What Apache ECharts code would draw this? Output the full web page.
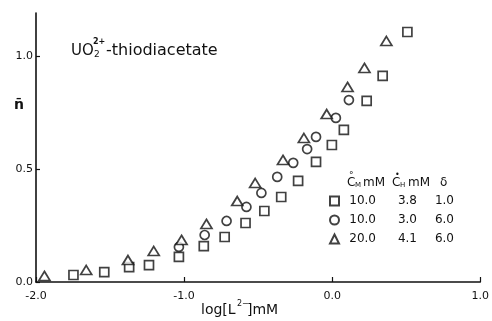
<!DOCTYPE html>
<html>
<head>
<meta charset="utf-8">
<script src="https://cdn.jsdelivr.net/npm/echarts@6/dist/echarts.min.js"></script>
<style>
  html, body { margin: 0; padding: 0; background: #fff; }
  #chart { width: 492px; height: 321px; }
</style>
</head>
<body>
<div id="chart"></div>
<script>
  // squares: CM 10.0, CH 3.8, delta 1.0
  const squareX = [-1.747, -1.539, -1.371, -1.237, -1.035, -0.867, -0.726, -0.585, -0.458, -0.344, -0.230, -0.109, -0.002, 0.079, 0.233, 0.341, 0.508];
  const squareY = [0.031, 0.044, 0.066, 0.075, 0.111, 0.159, 0.199, 0.261, 0.314, 0.376, 0.447, 0.531, 0.606, 0.673, 0.801, 0.912, 1.106];
  // circles: CM 10.0, CH 3.0, delta 6.0
  const circleX = [-1.035, -0.861, -0.713, -0.579, -0.478, -0.371, -0.263, -0.169, -0.109, 0.025, 0.113];
  const circleY = [0.155, 0.208, 0.270, 0.332, 0.394, 0.465, 0.527, 0.588, 0.642, 0.726, 0.805];
  // triangles: CM 20.0, CH 4.1, delta 6.0
  const triangleX = [-1.943, -1.661, -1.379, -1.205, -1.017, -0.849, -0.641, -0.520, -0.332, -0.191, -0.037, 0.104, 0.218, 0.366];
  const triangleY = [0.027, 0.053, 0.097, 0.137, 0.186, 0.257, 0.358, 0.438, 0.540, 0.637, 0.743, 0.863, 0.947, 1.066];

  const seriesNames = ['square', 'circle', 'triangle'];
  const concM = ['10.0', '10.0', '20.0'];
  const concH = ['3.8', '3.0', '4.1'];
  const delta = ['1.0', '6.0', '6.0'];

  const xTicks = [-2.0, -1.0, 0.0, 1.0];
  const yTicks = [0.0, 0.5, 1.0];

  const font = 'DejaVu Sans';
  const chart = echarts.init(document.getElementById('chart'));

  const pairs = (xs, ys) => xs.map((x, i) => [x, ys[i]]);
  const markStyle = {
    color: '#fff',
    borderColor: '#111',
    borderWidth: 1.7
  };

  const option = {
    animation: false,
    grid: { left: 36, right: 10, top: 13, bottom: 39 },
    xAxis: {
      type: 'value',
      min: -2.0,
      max: 1.0,
      interval: 1.0,
      axisLine: { lineStyle: { color: '#111', width: 1.6 } },
      axisTick: { inside: true, length: 5, lineStyle: { color: '#111', width: 1.2 } },
      axisLabel: {
        margin: 9,
        color: '#111',
        fontFamily: font,
        fontSize: 11,
        formatter: v => xTicks.includes(v) ? v.toFixed(1) : ''
      },
      splitLine: { show: false }
    },
    yAxis: {
      type: 'value',
      min: 0,
      max: 1.19,
      interval: 0.5,
      axisLine: { show: true, onZero: false, lineStyle: { color: '#111', width: 1.6 } },
      axisTick: { show: true, inside: true, length: 4, lineStyle: { color: '#111', width: 1.2 } },
      axisLabel: {
        margin: 3,
        color: '#111',
        fontFamily: font,
        fontSize: 11,
        showMaxLabel: false,
        formatter: v => yTicks.includes(v) ? v.toFixed(1) : ''
      },
      splitLine: { show: false }
    },
    legend: {
      orient: 'vertical',
      left: 329,
      top: 194,
      padding: 0,
      itemWidth: 9,
      itemHeight: 9,
      itemGap: 5,
      selectedMode: false,
      data: seriesNames,
      formatter: name => {
        const i = seriesNames.indexOf(name);
        return '{a|' + concM[i] + '}{b|' + concH[i] + '}{c|' + delta[i] + '}';
      },
      textStyle: {
        color: '#111',
        fontFamily: font,
        fontSize: 12,
        lineHeight: 14,
        rich: {
          a: { width: 32, align: 'right', fontFamily: font, fontSize: 12, color: '#111' },
          b: { width: 41, align: 'right', fontFamily: font, fontSize: 12, color: '#111' },
          c: { width: 37, align: 'right', fontFamily: font, fontSize: 12, color: '#111' }
        }
      }
    },
    series: [
      {
        name: 'square',
        type: 'scatter',
        symbol: 'rect',
        symbolSize: 9,
        itemStyle: markStyle,
        data: pairs(squareX, squareY)
      },
      {
        name: 'circle',
        type: 'scatter',
        symbol: 'circle',
        symbolSize: 9,
        itemStyle: markStyle,
        data: pairs(circleX, circleY)
      },
      {
        name: 'triangle',
        type: 'scatter',
        symbol: 'triangle',
        symbolSize: [11, 9],
        itemStyle: markStyle,
        data: pairs(triangleX, triangleY)
      }
    ],
    graphic: [
      // title UO2(2+)-thiodiacetate
      { type: 'text', left: 71, top: 44, style: { text: 'UO', font: '15px ' + font, fill: '#111' } },
      { type: 'text', left: 93, top: 38, style: { text: '2+', font: 'bold 8px ' + font, fill: '#111' } },
      { type: 'text', left: 94, top: 50, style: { text: '2', font: '9px ' + font, fill: '#111' } },
      { type: 'text', left: 106, top: 43, style: { text: '-thiodiacetate', font: '16px ' + font, fill: '#111' } },
      // y axis name n-bar
      { type: 'text', left: 14, top: 98, style: { text: 'n\u0304', font: 'bold 14px ' + font, fill: '#111' } },
      // x axis name log[L2-]mM
      { type: 'text', left: 201, top: 303, style: { text: 'log[L', font: '14px ' + font, fill: '#111' } },
      { type: 'text', left: 237, top: 300, style: { text: '2\u2212', font: '8px ' + font, fill: '#111' } },
      { type: 'text', left: 247, top: 303, style: { text: ']mM', font: '14px ' + font, fill: '#111' } },
      // legend header
      { type: 'text', left: 347, top: 177, style: { text: 'C', font: '12px ' + font, fill: '#111' } },
      { type: 'text', left: 349, top: 171, style: { text: '\u00b0', font: '9px ' + font, fill: '#111' } },
      { type: 'text', left: 355, top: 182, style: { text: 'M', font: '7px ' + font, fill: '#111' } },
      { type: 'text', left: 363, top: 177, style: { text: 'mM', font: '12px ' + font, fill: '#111' } },
      { type: 'text', left: 392, top: 177, style: { text: 'C', font: '12px ' + font, fill: '#111' } },
      { type: 'text', left: 395, top: 171, style: { text: '\u2022', font: '8px ' + font, fill: '#111' } },
      { type: 'text', left: 400, top: 182, style: { text: 'H', font: '7px ' + font, fill: '#111' } },
      { type: 'text', left: 408, top: 177, style: { text: 'mM', font: '12px ' + font, fill: '#111' } },
      { type: 'text', left: 440, top: 177, style: { text: '\u03b4', font: '12px ' + font, fill: '#111' } }
    ]
  };

  chart.setOption(option);
</script>
</body>
</html>
